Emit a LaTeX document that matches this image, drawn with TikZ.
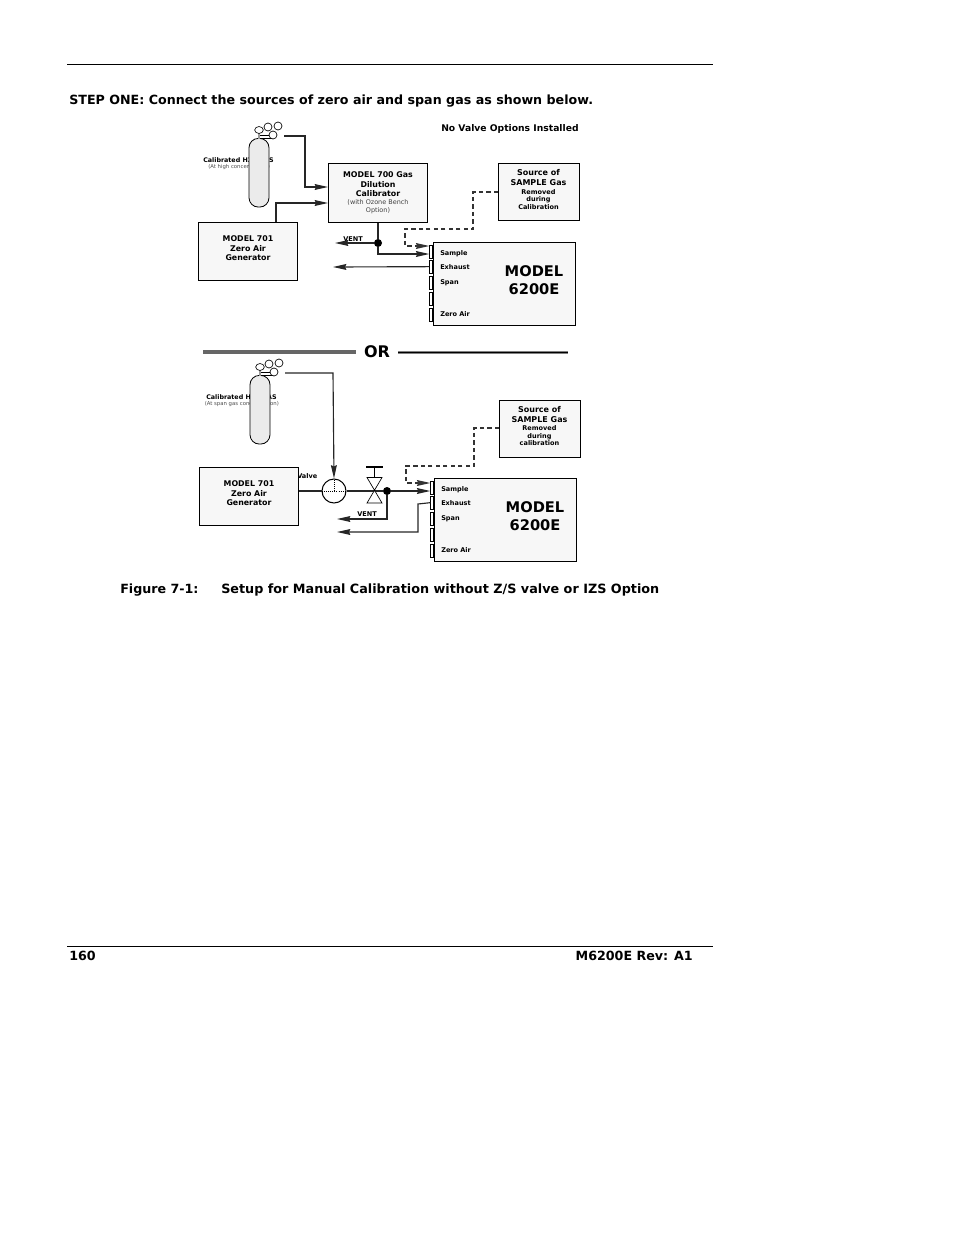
\documentclass[tikz,border=0pt]{standalone}
\usepackage{fontspec}
\setmainfont{DejaVu Sans}
\usetikzlibrary{arrows.meta, shapes.geometric}
\definecolor{boxfill}{gray}{0.97}
\definecolor{tankfill}{gray}{0.92}
\newcommand{\fsize}[2]{\fontsize{#1}{#2}\selectfont}
\tikzset{
  pagetext/.style={font=\fsize{9.5}{12}\bfseries, inner sep=0pt},
  unitbox/.style={draw, fill=boxfill, line width=0.75pt, inner sep=0pt},
  unittext/.style={font=\fsize{5.9}{7.2}\bfseries, align=center, inner sep=0pt, anchor=north},
  sourcetext/.style={font=\fsize{6}{7.4}\bfseries, align=center, inner sep=0pt, anchor=north},
  smalltext/.style={font=\fsize{4.9}{5.7}\bfseries, inner sep=0pt},
  gastext/.style={font=\fsize{4.75}{5.7}\bfseries, inner sep=0pt, anchor=west},
  tinytext/.style={font=\fsize{4}{4.6}, inner sep=0pt, text=black!70, anchor=west},
  pipe/.style={line width=0.85pt, black!85, -{Stealth[length=10pt,width=4.4pt,inset=1pt]}},
  plainpipe/.style={line width=0.85pt, black!85},
  samplepipe/.style={line width=0.8pt, black!80, dash pattern=on 3.2pt off 2.4pt, -{Stealth[length=10pt,width=4.4pt,inset=1pt]}},
  junction/.style={circle, fill=black, minimum size=6pt, inner sep=0pt},
  portbox/.style={draw, fill=white, line width=0.6pt, minimum width=2.2pt, minimum height=9.4pt, inner sep=0pt, anchor=north east},
  dial/.style={draw, fill=white, circle, line width=0.5pt, minimum size=6pt, inner sep=0pt},
  % gas bottle with its regulator, origin at the top of the cylinder
  gasbottle/.pic={
    \node[draw, fill=tankfill, line width=0.6pt, rounded corners=7pt, minimum width=15pt, minimum height=51.5pt, inner sep=0pt, anchor=north] (-tank) at (0,0) {};
    \draw[line width=1.6pt, black!40] (0,-6) -- (0,1);
    \draw[line width=0.5pt] (1,-3) -- (14,-3) (1,0) -- (14,0);
    \node[dial, minimum size=5.2pt, minimum width=6.4pt, ellipse] at (0,-8) {};
    \node[dial] at (9,-11) {};
    \node[dial] at (19,-12) {};
    \node[dial] (-reg) at (14,-3) {};
    \coordinate (-out) at (25,-2);
  },
  % analyzer box with its five rear ports, origin at the top left corner
  analyzer/.pic={
    \node[unitbox, minimum width=106.3pt, minimum height=62.5pt, anchor=north west] (-box) at (0,0) {};
    \foreach \i/\p/\t/\q in {sample/3/11.5/Sample, exhaust/18/25.5/Exhaust, span/34/40.5/Span, blank/50/56/, zero/66/72.5/Zero Air} {
      \node[portbox] (-\i) at (0,\p) {};
      \node[smalltext, anchor=west] at (7,\t) {\q};
    }
    \node[font=\fsize{11}{13.5}\bfseries, align=center, inner sep=0pt] at (101,38.5) {MODEL\\6200E};
  },
}
\begin{document}
\begin{tikzpicture}[x=0.75pt, y=-0.75pt]
  \useasboundingbox (0,0) rectangle (954,1235);

  % Page rules and text
  \coordinate (ruleTL) at (67,64);
  \coordinate (ruleTR) at (713,64);
  \coordinate (ruleBL) at (67,946);
  \coordinate (ruleBR) at (713,946);
  \draw[line width=0.75pt] (ruleTL) -- (ruleTR);
  \draw[line width=0.75pt] (ruleBL) -- (ruleBR);
  \node[pagetext, anchor=west] (stepone) at (69,101) {STEP ONE: Connect the sources of zero air and span gas as shown below.};
  \node[pagetext, anchor=west] (figno) at (120,590) {Figure 7-1:};
  \node[pagetext, anchor=west, font=\fsize{9.58}{12}\bfseries] (figcap) at (221,590) {Setup for Manual Calibration without Z/S valve or IZS Option};
  \node[pagetext, anchor=west] (pageno) at (69,956) {160};
  \node[pagetext, anchor=east] (rev) at (693,956) {M6200E Rev: A1};

  % Upper setup
  \node[font=\fsize{6.9}{8}\bfseries, inner sep=0pt, anchor=west] (novalve) at (441,128.5) {No Valve Options Installed};
  \node[gastext] (gasA) at (203,160) {Calibrated H2S GAS};
  \node[tinytext] (concA) at (208,167) {(At high concentration)};
  \pic (tankA) at (259,138) {gasbottle};
  \pic (unitA) at (433,242) {analyzer};
  \node[unitbox, minimum width=74pt, minimum height=44pt, anchor=north west] (cal) at (328,163) {};
  \node[unittext] (calT) at (378,171.5) {MODEL 700 Gas\\Dilution\\Calibrator};
  \node[font=\fsize{4.85}{6.6}, align=center, inner sep=0pt, text=black!75, anchor=north] (calN) at (378,199) {(with Ozone Bench\\Option)};
  \node[unitbox, minimum width=74pt, minimum height=43.5pt, anchor=north west] (zeroA) at (198,222) {};
  \node[unittext] (zeroAT) at (248,235.5) {MODEL 701\\Zero Air\\Generator};
  \node[unitbox, minimum width=60.5pt, minimum height=43pt, anchor=north west] (srcA) at (498,163) {};
  \node[sourcetext] (srcAT) at (538.5,169) {Source of\\SAMPLE Gas};
  \node[smalltext, align=center, anchor=north] (srcAN) at (538.5,189) {Removed\\during\\Calibration};
  \node[junction] (dotA) at (378,243) {};
  \node[smalltext, anchor=center] (ventA) at (353,239) {VENT};
  \coordinate (ventAend) at (335,243);
  \coordinate (exhAend) at (333,267);

  \draw[pipe] (tankA-out) -- (305,136) -- (305,187) -- (cal.west |- 0,187);
  \draw[pipe] (276,222) -- (276,203) -- (cal.west |- 0,203);
  \draw[plainpipe] (cal.south -| dotA) -- (dotA);
  \draw[pipe] (dotA) -- (378,254) -- (unitA-sample.west |- 0,254);
  \draw[pipe] (dotA) -- (ventAend);
  \draw[pipe] (unitA-exhaust.west) -- (exhAend);
  \draw[samplepipe] (srcA.west |- 0,192) -- (473,192) -- (473,229) -- (405,229) -- (405,246) -- (unitA-sample.west |- 0,246);

  % Divider between the two setups
  \node[font=\fsize{12}{14}\bfseries, inner sep=0pt] (orlabel) at (377,352) {OR};
  \coordinate (orLA) at (203,352);
  \coordinate (orLB) at (356,352);
  \coordinate (orRA) at (398,352.5);
  \coordinate (orRB) at (568,352.5);
  \coordinate (orRC) at (463,352.5);
  \draw[line width=2.6pt, black!60] (orLA) -- (orLB);
  \draw[line width=1.6pt, black!50] (orRA) -- (orRB);
  \draw[line width=0.6pt] (398,352) -- (568,352);
  \draw[line width=1.4pt] (orRA) -- (orRC);

  % Lower setup
  \node[gastext] (gasB) at (206,397) {Calibrated H2S GAS};
  \node[tinytext] (concB) at (204.5,404) {(At span gas concentration)};
  \pic (tankB) at (260,375) {gasbottle};
  \pic (unitB) at (434,478) {analyzer};
  \node[smalltext, anchor=west] (valveL) at (297,476) {Valve};
  \node[unitbox, minimum width=74pt, minimum height=43.5pt, anchor=north west] (zeroB) at (199,467) {};
  \node[unittext] (zeroBT) at (249,480.5) {MODEL 701\\Zero Air\\Generator};
  \node[unitbox, minimum width=60.5pt, minimum height=43pt, anchor=north west] (srcB) at (499,399.5) {};
  \node[sourcetext] (srcBT) at (539.5,406) {Source of\\SAMPLE Gas};
  \node[smalltext, align=center, anchor=north] (srcBN) at (539.5,425.5) {Removed\\during\\calibration};

  \node[draw, circle, fill=white, line width=0.75pt, minimum size=18pt, inner sep=0pt] (selector) at (334,491) {};
  \draw[densely dotted, line width=0.6pt] (selector.west) -- (selector.east) (selector.center) -- (selector.north);
  \coordinate (valveC) at (374.5,491);
  \coordinate (valveTL) at (367,477.5);
  \coordinate (valveTR) at (382,477.5);
  \coordinate (valveBL) at (367,503);
  \coordinate (valveBR) at (382,503);
  \coordinate (handle) at (374.5,467);
  \node[junction] (dotB) at (387,491) {};
  \node[smalltext] (ventB) at (367,514) {VENT};
  \coordinate (ventBend) at (337,519);
  \coordinate (exhBend) at (337,532);

  \draw[plainpipe] (zeroB.east |- selector) -- (selector);
  \draw[plainpipe] (selector) -- (valveC);
  \draw[plainpipe] (valveC) -- (dotB);
  \draw[line width=0.5pt, fill=white] (valveTL) -- (valveBR) -- (valveBL) -- (valveTR) -- cycle;
  \draw[line width=1pt] (valveC |- valveTL) -- (handle);
  \draw[line width=1pt] (366,467) -- (383,467);
  \draw[pipe] (tankB-out) -- (333,373) -- (selector.north);
  \draw[pipe] (dotB) -- (unitB-sample.west |- dotB);
  \draw[pipe] (dotB) -- (387,519) -- (ventBend);
  \draw[pipe] (unitB-exhaust.west) -- (418,504) -- (418,532) -- (exhBend);
  \draw[samplepipe] (srcB.west |- 0,428) -- (474,428) -- (474,466) -- (406,466) -- (406,483) -- (unitB-sample.west |- 0,483);
\end{tikzpicture}
\end{document}
